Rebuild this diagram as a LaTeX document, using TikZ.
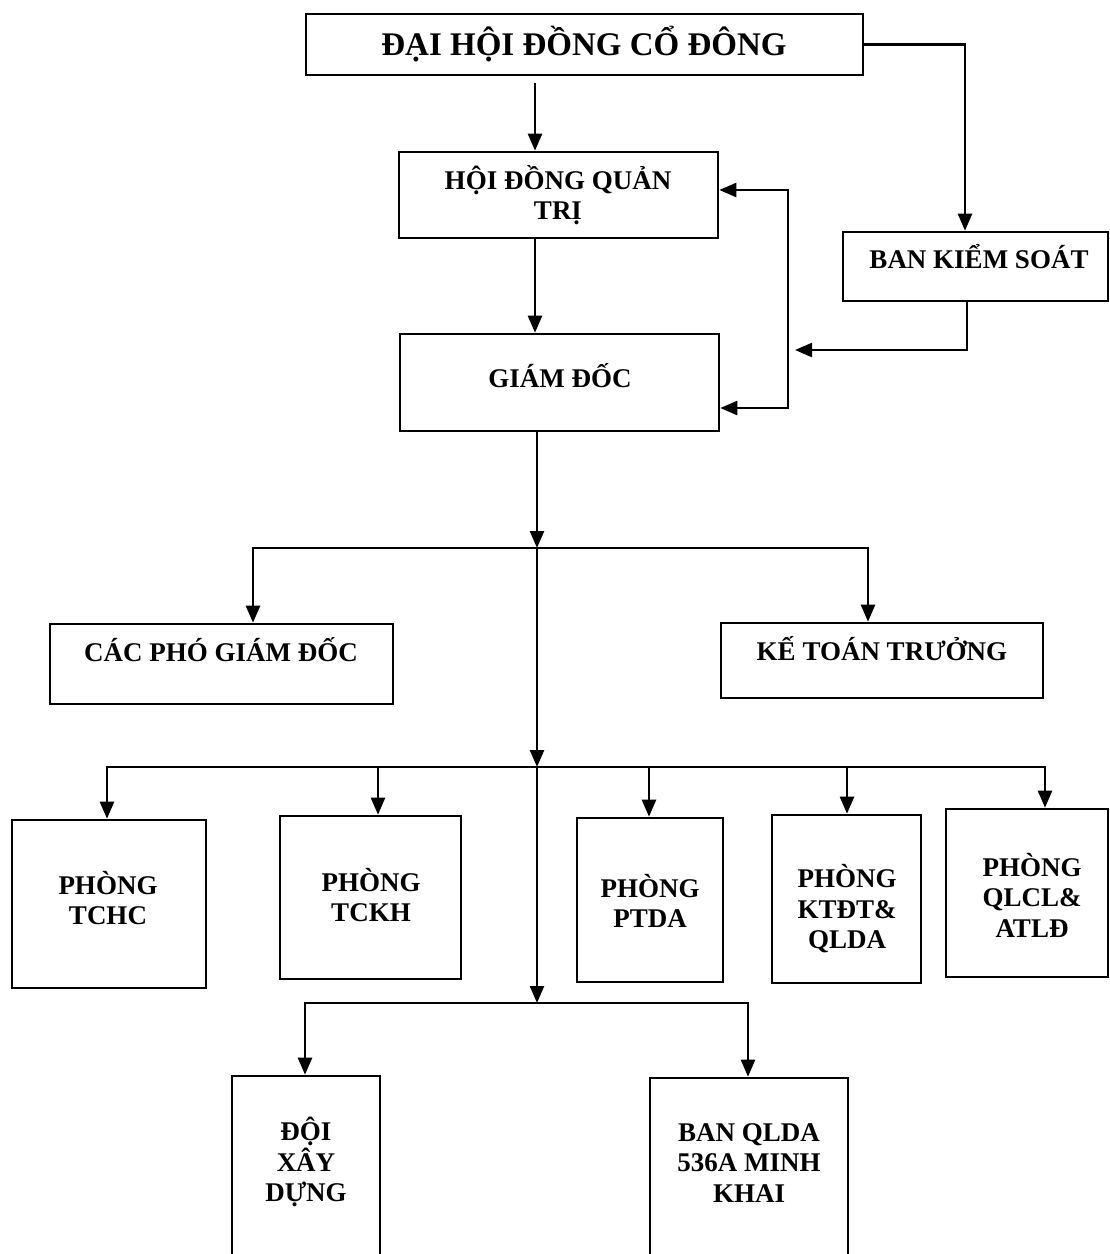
\documentclass[tikz,border=0pt]{standalone}
\usepackage{fontspec}
\setmainfont{Liberation Serif}
\usetikzlibrary{arrows.meta}
\tikzset{
  box/.style={draw, line width=2.6pt, inner sep=0pt},
  lbl/.style={font=\fontsize{27}{30.5}\selectfont\bfseries, align=center, inner sep=0pt},
  conn/.style={line width=2.4pt},
}
\begin{document}
\begin{tikzpicture}[x=1pt,y=-1pt,>={Triangle[length=17pt,width=14pt]},line join=miter,]
\useasboundingbox (0,0) rectangle (1110,1254);
\clip (0,0) rectangle (1110,1254);
%% boxes
\node (dhcd) at (584.5,44.5) [box,minimum width=557pt,minimum height=61pt] {};
\node (hdqt) at (558.5,195) [box,minimum width=319pt,minimum height=86pt] {};
\node (bks) at (975.5,266.5) [box,minimum width=265pt,minimum height=69pt] {};
\node (gd) at (559.5,382.5) [box,minimum width=319pt,minimum height=97pt] {};
\node (cpgd) at (221.5,664) [box,minimum width=343pt,minimum height=80pt] {};
\node (ktt) at (882,660.5) [box,minimum width=322pt,minimum height=75pt] {};
\node (tchc) at (109,904) [box,minimum width=194pt,minimum height=168pt] {};
\node (tckh) at (370.5,897.5) [box,minimum width=181pt,minimum height=163pt] {};
\node (ptda) at (650,900) [box,minimum width=146pt,minimum height=164pt] {};
\node (ktdt) at (846.5,899) [box,minimum width=149pt,minimum height=168pt] {};
\node (qlcl) at (1027,893) [box,minimum width=162pt,minimum height=168pt] {};
\node (dxd) at (306,1186) [box,minimum width=148pt,minimum height=220pt] {};
\node (bql) at (749,1187) [box,minimum width=198pt,minimum height=218pt] {};
%% texts
\node (dhcd_t) at (584,44) [lbl,font=\fontsize{33}{36}\selectfont\bfseries] {ĐẠI HỘI ĐỒNG CỔ ĐÔNG};
\node (hdqt_t) at (558,195) [lbl] {HỘI ĐỒNG QUẢN\\TRỊ};
\node (bks_t) at (979,257) [lbl] {BAN KIỂM SOÁT};
\node (gd_t) at (560,376) [lbl] {GIÁM ĐỐC};
\node (cpgd_t) at (221,650) [lbl] {CÁC PHÓ GIÁM ĐỐC};
\node (ktt_t) at (882,649) [lbl] {KẾ TOÁN TRƯỞNG};
\node (tchc_t) at (108,898) [lbl] {PHÒNG\\TCHC};
\node (tckh_t) at (371,895) [lbl] {PHÒNG\\TCKH};
\node (ptda_t) at (650,901) [lbl] {PHÒNG\\PTDA};
\node (ktdt_t) at (847,909) [lbl] {PHÒNG\\KTĐT\&\\QLDA};
\node (qlcl_t) at (1032,895) [lbl] {PHÒNG\\QLCL\&\\ATLĐ};
\node (dxd_t) at (306,1162) [lbl] {ĐỘI\\XÂY\\DỰNG};
\node (bql_t) at (749,1163) [lbl] {BAN QLDA\\536A MINH\\KHAI};
%% junctions and bends
\coordinate (j1) at (537,548);
\coordinate (j2) at (537,767);
\coordinate (j3) at (537,1003);
\coordinate (lp1) at (788,190);
\coordinate (lp2) at (788,408);
\coordinate (lp3) at (795,350);
%% connectors
\draw [conn,->,shorten <=7pt] (dhcd.south -| 535,0) -- (hdqt.north -| 535,0);
\draw [conn,->] (dhcd.east) -| (bks.north -| 965,0);
\draw [conn,->] (hdqt.south -| 535,0) -- (gd.north -| 535,0);
\draw [conn,<->] (hdqt.east |- lp1) -- (lp1) -- (lp2) -- (gd.east |- lp2);
\draw [conn,->] (bks.south -| 967,0) |- (lp3);
\draw [conn,->] (gd.south -| j1) -- (j1);
\draw [conn,->] (j1) -- (j2);
\draw [conn,->] (j2) -- (j3);
\draw [conn,->] (j1) -| (cpgd.north -| 253,0);
\draw [conn,->] (j1) -| (ktt.north -| 868,0);
\foreach \n/\x in {tchc/107,tckh/378,ptda/649,ktdt/847,qlcl/1045}
  \draw [conn,->] (j2) -| (\n.north -| \x,0);
\draw [conn,->] (j3) -| (dxd.north -| 305,0);
\draw [conn,->] (j3) -| (bql.north -| 748,0);
%
\end{tikzpicture}
\end{document}
